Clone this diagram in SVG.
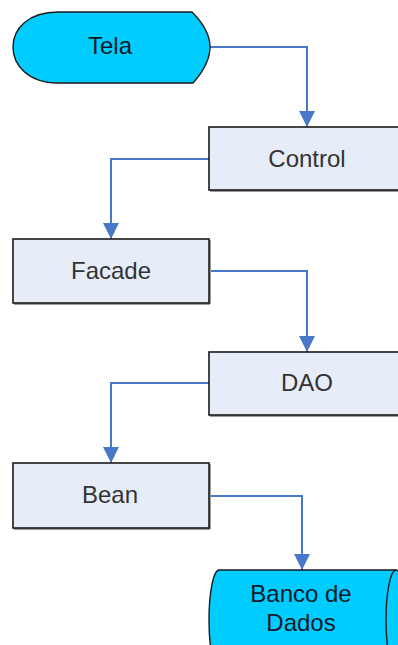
<svg xmlns="http://www.w3.org/2000/svg" width="398" height="645" viewBox="0 0 398 645">
<style>
.box{fill:#E6EDF8;stroke:#1a1a1a;stroke-width:1.6}
.shadow{fill:none;stroke:#9a9a9a;stroke-width:2}
.term{fill:#00CCFF;stroke:#1a1a1a;stroke-width:1.4}
.lbl{font-family:"Liberation Sans",Arial,sans-serif;font-size:24px;fill:#333;text-anchor:middle}
.lbl2{font-family:"Liberation Sans",Arial,sans-serif;font-size:24px;fill:#0d1a26;text-anchor:middle}
.conn{fill:none;stroke:#4A78C8;stroke-width:2}
</style>
<defs>
<marker id="arr" viewBox="0 0 16 16" refX="16" refY="8" markerWidth="16" markerHeight="16" markerUnits="userSpaceOnUse" orient="auto">
<path d="M0,0 L16,8 L0,16 Z" fill="#4A78C8"/>
</marker>
</defs>
<rect width="398" height="645" fill="#fff"/>
<g id="connectors">
<path class="conn" d="M210,47 H307 V127" marker-end="url(#arr)"/>
<path class="conn" d="M209,159 H111 V239" marker-end="url(#arr)"/>
<path class="conn" d="M209,271 H307 V352" marker-end="url(#arr)"/>
<path class="conn" d="M209,383 H111 V463" marker-end="url(#arr)"/>
<path class="conn" d="M209,496 H302 V570" marker-end="url(#arr)"/>
</g>
<g id="tela">
<path class="term" d="M58,12 H192 Q210,30 210,47 Q210,64 193,83 H58 C28,83 13,65 13,47 C13,29 28,12 58,12 Z"/>
<text class="lbl2" x="110" y="54">Tela</text>
</g>
<g id="control">
<path class="shadow" d="M210,191 H405"/>
<rect class="box" x="209" y="127" width="196" height="63"/>
<text class="lbl" x="307" y="167">Control</text>
</g>
<g id="facade">
<path class="shadow" d="M14,304 H210 M210,240 V304"/>
<rect class="box" x="13" y="239" width="196" height="64"/>
<text class="lbl" x="111" y="279">Facade</text>
</g>
<g id="dao">
<path class="shadow" d="M210,416 H405"/>
<rect class="box" x="209" y="352" width="196" height="63"/>
<text class="lbl" x="307" y="391">DAO</text>
</g>
<g id="bean">
<path class="shadow" d="M14,529 H210 M210,464 V529"/>
<rect class="box" x="13" y="463" width="196" height="65"/>
<text class="lbl" x="110" y="503">Bean</text>
</g>
<g id="banco">
<path class="term" d="M219,570 H396 A10,50 0 0 1 396,670 H219 A10,50 0 0 1 219,570 Z"/>
<path class="term" d="M396,570 A10,50 0 0 0 396,670" fill="none"/>
<text class="lbl2" x="301" y="602">Banco de</text>
<text class="lbl2" x="301" y="631">Dados</text>
</g>
</svg>
